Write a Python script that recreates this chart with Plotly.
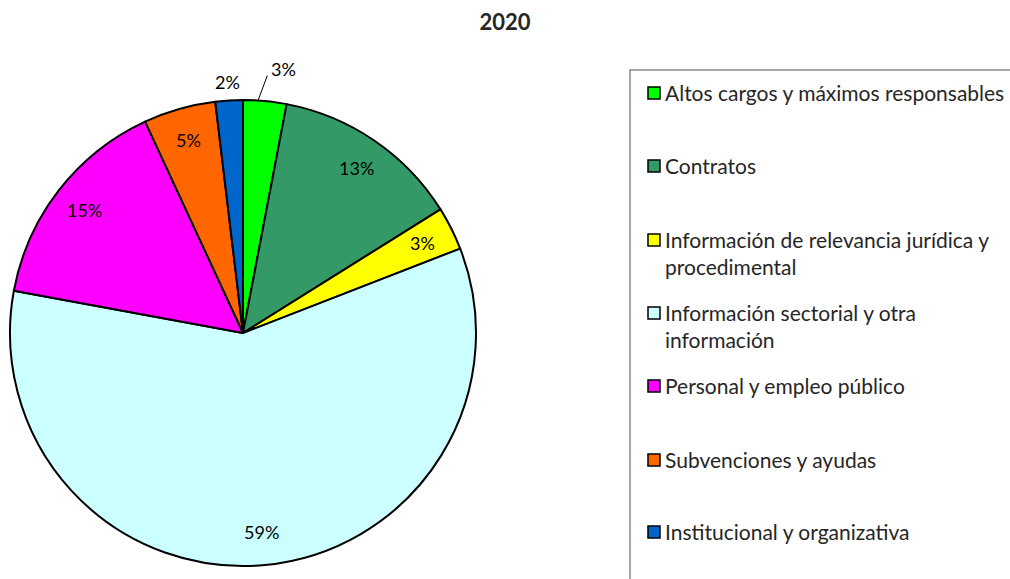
import math
import plotly.graph_objects as go

title = "2020"
categories = [
    "Altos cargos y máximos responsables",
    "Contratos",
    "Información de relevancia jurídica y procedimental",
    "Información sectorial y otra información",
    "Personal y empleo público",
    "Subvenciones y ayudas",
    "Institucional y organizativa",
]
legend_labels = [
    "Altos cargos y máximos responsables",
    "Contratos",
    "Información de relevancia jurídica y<br>procedimental",
    "Información sectorial y otra<br>información",
    "Personal y empleo público",
    "Subvenciones y ayudas",
    "Institucional y organizativa",
]
values = [3.0, 13.1, 3.0, 58.8, 15.2, 5.0, 1.9]
colors = ["#00FF00", "#339966", "#FFFF00", "#CCFFFF", "#FF00FF", "#FF6600", "#0066CC"]
label_pos = ["leader", "inside", "inside", "inside", "inside", "inside", "outside"]

W, H = 1010, 579
CX, CY, R = 243, 333, 233  # pie centre / radius in pixels
FONT = "Lato"
TXT = "#262626"


def px(x):
    return x / W


def py(y):
    return 1 - y / H


fig = go.Figure()
fig.add_trace(go.Pie(
    labels=categories,
    values=values,
    sort=False,
    direction="clockwise",
    rotation=0,
    marker=dict(colors=colors, line=dict(color="black", width=2)),
    textinfo="none",
    hoverinfo="label+percent",
    showlegend=False,
    domain=dict(x=[px(CX - R), px(CX + R)], y=[py(CY + R), py(CY - R)]),
))

annotations = []
shapes = []
total = sum(values)
cum = 0.0
for v, pos in zip(values, label_pos):
    mid = (cum + v / 2) / total * 2 * math.pi
    cum += v
    sx, sy = math.sin(mid), -math.cos(mid)
    txt = f"{round(v / total * 100)}%"
    lab_font = dict(family=FONT, size=18, color="black")
    common = dict(showarrow=False, xref="paper", yref="paper", font=lab_font, yanchor="middle")
    if pos == "inside":
        r = 0.86 * R
        annotations.append(dict(x=px(CX + r * sx), y=py(CY + r * sy), text=txt,
                                xanchor="center", **common))
    elif pos == "outside":
        r = 1.08 * R
        annotations.append(dict(x=px(CX + r * sx), y=py(CY + r * sy), text=txt,
                                xanchor="center", **common))
    else:
        a0 = mid - math.radians(1.7)
        x0, y0 = CX + R * math.sin(a0), CY - R * math.cos(a0)
        x1, y1 = CX + 1.11 * R * math.sin(mid), CY - 1.11 * R * math.cos(mid)
        shapes.append(dict(type="line", xref="paper", yref="paper",
                           x0=px(x0), y0=py(y0), x1=px(x1), y1=py(y1),
                           line=dict(color="black", width=1)))
        annotations.append(dict(x=px(x1 + 2), y=py(y1 - 7), text=txt,
                                xanchor="left", **common))

# legend box
shapes.append(dict(type="rect", xref="paper", yref="paper",
                   x0=px(630), x1=px(1030), y0=py(600), y1=py(70),
                   line=dict(color="#8a8a8a", width=1.5), fillcolor="rgba(0,0,0,0)"))
item_y = [93, 166, 240, 313, 386, 460, 532]
for lab, col, y in zip(legend_labels, colors, item_y):
    shapes.append(dict(type="rect", xref="paper", yref="paper",
                       x0=px(648), x1=px(660), y0=py(y + 6), y1=py(y - 6),
                       line=dict(color="black", width=1.5), fillcolor=col))
    annotations.append(dict(x=px(663), y=py(y - 15), text=lab, xanchor="left", yanchor="top",
                            align="left", showarrow=False, xref="paper", yref="paper",
                            font=dict(family=FONT, size=21, color=TXT)))

fig.update_layout(
    width=W, height=H,
    margin=dict(l=0, r=0, t=0, b=0),
    paper_bgcolor="white",
    plot_bgcolor="white",
    title=dict(text=f"<b>{title}</b>", x=0.5, xanchor="center", y=py(22), yanchor="middle",
               font=dict(family=FONT, size=22, color=TXT)),
    shapes=shapes,
    annotations=annotations,
)

fig.write_html("out.html", config={"displayModeBar": False},
               post_script="document.body.style.margin='0';")
